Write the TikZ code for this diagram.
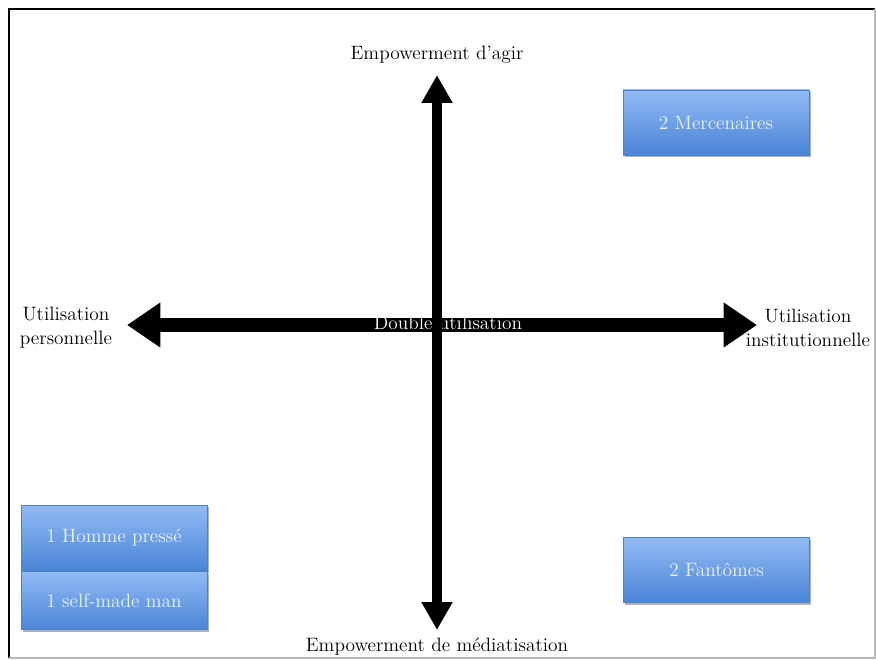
\documentclass[tikz,border=0pt]{standalone}
\usepackage{tikz}
\usetikzlibrary{arrows.meta, positioning, shadows}

\definecolor{boxtop}{HTML}{92BAF4}
\definecolor{boxbot}{HTML}{4A85D6}
\definecolor{boxedge}{HTML}{4F7FC4}
\definecolor{boxtext}{HTML}{EEF3FB}

\begin{document}
\begin{tikzpicture}[x=0.75pt, y=-0.75pt,
    lbl/.style={align=center, inner sep=0pt, font=\fontsize{14.5}{18}\selectfont},
    typebox/.style={rectangle, draw=boxedge, top color=boxtop, bottom color=boxbot, minimum width=139.5pt, minimum height=48.75pt, inner sep=0pt, text=boxtext, font=\fontsize{14.5}{18}\selectfont, drop shadow={shadow xshift=1.2pt, shadow yshift=-1.5pt, opacity=0.3, fill=black}},
    haxis/.style={line width=10.5pt, {Triangle[width=32pt, length=25pt]}-{Triangle[width=32pt, length=25pt]}},
    vaxis/.style={line width=8pt, {Triangle[width=22pt, length=21pt]}-{Triangle[width=22pt, length=21pt]}}
]
\useasboundingbox (0,0) rectangle (876,660);
% frame
\draw[black, line width=2pt] (9,658) -- (9,9) -- (875,9);
\draw[gray!55, line width=1.5pt] (875,9) -- (875,658) -- (9,658);

% axis ends
\coordinate (west) at (127,325);
\coordinate (east) at (757,325);
\coordinate (north) at (437,75);
\coordinate (south) at (437,630);

\node[lbl] (agir) at (437,55) {Empowerment d'agir};
\node[lbl] (media) at (437,647) {Empowerment de médiatisation};
\node[lbl] (perso) at (66,328) {Utilisation\\personnelle};
\node[lbl] (instit) at (808,328) {Utilisation\\institutionnelle};

\draw[haxis] (west) -- (east);
\node[lbl, text=white] (double) at (448,323) {Double utilisation};
\draw[vaxis] (south) -- (north);

% types
\node[typebox] (merc) at (716,122.5) {2 Mercenaires};
\node[typebox] (fant) at (716.5,570) {2 Fantômes};
\node[typebox, minimum height=49.5pt] (homme) at (114,538) {1 Homme pressé};
\node[typebox, minimum height=43.5pt, below=0pt of homme] (self) {1 self-made man};
\end{tikzpicture}
\end{document}
